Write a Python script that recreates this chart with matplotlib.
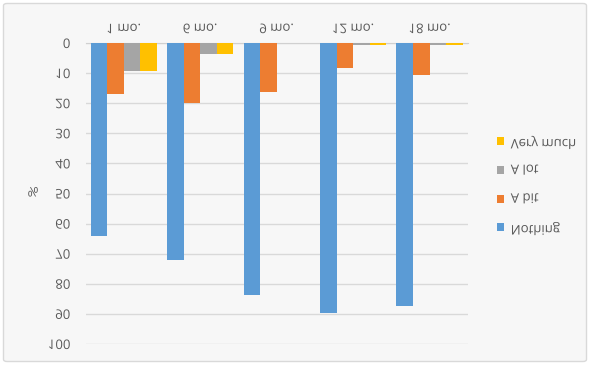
import numpy as np
import matplotlib
matplotlib.use("Agg")
import matplotlib.pyplot as plt
import matplotlib.patheffects as pe
from matplotlib.transforms import Affine2D
from matplotlib.patches import FancyBboxPatch

# the reference is a vertically mirrored Excel chart
months = ["1 mo.", "6 mo.", "9 mo.", "12 mo.", "18 mo."]
nothing = [64.2, 72.1, 83.7, 89.7, 87.4]
a_bit = [16.8, 19.9, 16.4, 8.3, 10.7]
a_lot = [9.2, 3.7, 0.0, 0.5, 0.5]
very_much = [9.3, 3.8, 0.0, 0.7, 0.7]
yticks = [0, 10, 20, 30, 40, 50, 60, 70, 80, 90, 100]

series = [("Nothing", nothing, "#5b9bd5"),
          ("A bit", a_bit, "#ed7d31"),
          ("A lot", a_lot, "#a5a5a5"),
          ("Very much", very_much, "#ffc000")]


class FlipV(pe.AbstractPathEffect):
    # mirror the glyphs upside down around their own middle
    def draw_path(self, renderer, gc, tpath, affine, rgbFace=None):
        box = tpath.transformed(affine).get_extents()
        cy = (box.y0 + box.y1) / 2
        flip = Affine2D().translate(0, -cy).scale(1, -1).translate(0, cy)
        renderer.draw_path(gc, tpath, affine + flip, rgbFace)


flipped = [FlipV()]
txt_color = "#595959"
fsize = 9.5
plt.rcParams["font.family"] = ["Open Sans", "DejaVu Sans"]

fig = plt.figure(figsize=(5.92, 3.65), dpi=100)
fig.patch.set_facecolor("white")
fig.patches.append(FancyBboxPatch((3.5 / 592, 3.5 / 365), 583 / 592, 358 / 365,
                                  boxstyle="round,pad=0,rounding_size=0.006",
                                  transform=fig.transFigure, facecolor="#f7f7f7",
                                  edgecolor="#d9d9d9", linewidth=1.0, zorder=-10))

ax = fig.add_axes([85.6 / 592, 1 - 344 / 365, 382.3 / 592, 301 / 365])
ax.set_facecolor("none")

x = np.arange(len(months))
width = 0.217
for i, (name, vals, col) in enumerate(series):
    ax.bar(x + (i - 1.5) * width, vals, width, color=col, label=name, zorder=3)

ax.set_xlim(-0.5, len(months) - 0.5)
ax.set_ylim(100, 0)
ax.set_yticks(yticks)
ax.grid(axis="y", color="#d9d9d9", linewidth=1.0, zorder=0)
for s in ["left", "right", "bottom"]:
    ax.spines[s].set_visible(False)
ax.spines["top"].set_color("#d0d0d0")
ax.xaxis.tick_top()
ax.set_xticks(x)
ax.set_xticklabels(months)
ax.tick_params(axis="both", length=0, colors=txt_color, labelsize=fsize)
ax.tick_params(axis="x", pad=5)
ax.tick_params(axis="y", pad=11)
for lab in ax.get_xticklabels() + ax.get_yticklabels():
    lab.set_path_effects(flipped)

t = fig.text(33 / 592, 1 - 193 / 365, "%", ha="center", va="center",
             fontsize=fsize, color=txt_color)
t.set_path_effects(flipped)

h, l = ax.get_legend_handles_labels()
leg = fig.legend(h[::-1], l[::-1], loc="upper left",
                 bbox_to_anchor=(485 / 592, 1 - 124 / 365),
                 frameon=False, fontsize=fsize, labelcolor=txt_color,
                 handlelength=0.55, handleheight=0.55, handletextpad=0.5,
                 labelspacing=1.19)
for txt in leg.get_texts():
    txt.set_path_effects(flipped)

fig.savefig("out.png", dpi=100)
